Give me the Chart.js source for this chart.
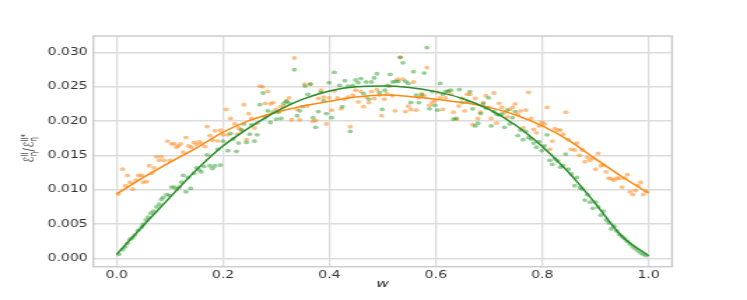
<!DOCTYPE html>
<html>
<head>
<meta charset="utf-8">
<script src="https://cdn.jsdelivr.net/npm/chart.js@4.4.1/dist/chart.umd.min.js"></script>
<style>
  html, body { margin: 0; padding: 0; background: #ffffff; overflow: hidden; }
  #wrap { width: 534px; height: 300px; transform: scaleX(1.3989); transform-origin: 0 0; }
</style>
</head>
<body>
<div id="wrap"><canvas id="c"></canvas></div>
<script>
// ---------- data ----------
const orangeX = [0.003,0.011,0.016,0.020,0.025,0.030,0.036,0.041,0.047,0.050,0.056,0.061,0.066,0.070,0.075,0.080,0.084,0.089,0.095,0.100,0.103,0.108,0.1125,0.116,0.120,0.125,0.130,0.135,0.140,0.145,0.150,0.155,0.160,0.166,0.170,0.175,0.180,0.185,0.190,0.195,0.200,
0.206,0.209,0.214,0.222,0.227,0.229,0.234,0.239,0.244,0.248,0.253,0.259,0.264,0.269,0.274,0.279,0.284,0.289,0.294,0.299,0.303,0.308,0.314,0.319,0.324,0.329,0.334,0.339,0.344,0.353,0.358,0.364,0.369,0.374,0.379,0.384,0.389,0.394,0.399,0.404,0.409,0.415,
0.422,0.428,0.435,0.439,0.444,0.449,0.454,0.459,0.464,0.469,0.474,0.479,0.484,0.489,0.494,0.498,0.503,0.508,0.513,0.518,0.523,0.528,0.533,0.538,0.543,0.548,0.553,0.558,0.563,0.568,0.573,0.578,0.583,0.588,0.593,0.598,0.603,0.608,0.613,0.618,0.623,0.628,0.633,0.639,
0.643,0.649,0.654,0.659,0.664,0.669,0.674,0.679,0.684,0.689,0.694,0.699,0.704,0.709,0.714,0.719,0.724,0.729,0.734,0.739,0.744,0.749,0.754,0.759,0.764,0.769,0.774,0.779,0.784,0.789,0.794,0.799,0.804,0.809,0.814,0.819,0.824,0.829,0.834,0.839,0.844,
0.849,0.854,0.861,0.865,0.870,0.875,0.880,0.885,0.890,0.895,0.900,0.905,0.910,0.915,0.920,0.925,0.930,0.935,0.940,0.945,0.950,0.955,0.960,0.965,0.970,0.975,0.980,0.985,0.990,0.995];
const orangeY = [0.0094,0.0130,0.0106,0.0121,0.0111,0.0101,0.0114,0.0121,0.0121,0.0111,0.0112,0.0135,0.0124,0.0132,0.0148,0.0143,0.0148,0.0143,0.0171,0.0143,0.0167,0.0167,0.0162,0.0164,0.0167,0.0155,0.0176,0.0164,0.0162,0.0169,0.0166,0.0170,0.0167,0.0163,0.0192,0.0179,0.0172,0.0186,0.0171,0.0187,0.0180,
0.0217,0.0180,0.0204,0.0196,0.0181,0.0190,0.0188,0.0224,0.0173,0.0211,0.0204,0.0190,0.0197,0.0251,0.0250,0.0226,0.0243,0.0225,0.0227,0.0217,0.0214,0.0221,0.0222,0.0229,0.0234,0.0202,0.0292,0.0217,0.0202,0.0254,0.0222,0.0254,0.0200,0.0201,0.0233,0.0245,0.0235,0.0196,0.0234,0.0216,0.0244,0.0234,
0.0218,0.0232,0.0235,0.0192,0.0238,0.0245,0.0228,0.0243,0.0221,0.0235,0.0227,0.0243,0.0233,0.0246,0.0238,0.0208,0.0232,0.0240,0.0251,0.0237,0.0215,0.0261,0.0293,0.0261,0.0214,0.0222,0.0217,0.0257,0.0216,0.0234,0.0240,0.0237,0.0278,0.0223,0.0227,0.0230,0.0242,0.0234,0.0217,0.0234,0.0243,0.0239,0.0213,0.0203,
0.0222,0.0233,0.0215,0.0239,0.0239,0.0195,0.0233,0.0204,0.0213,0.0227,0.0237,0.0220,0.0204,0.0241,0.0197,0.0226,0.0220,0.0213,0.0206,0.0217,0.0220,0.0225,0.0210,0.0215,0.0190,0.0216,0.0242,0.0204,0.0188,0.0183,0.0193,0.0198,0.0196,0.0220,0.0159,0.0171,0.0189,0.0187,0.0187,0.0181,0.0213,
0.0173,0.0159,0.0158,0.0168,0.0150,0.0158,0.0141,0.0147,0.0143,0.0146,0.0130,0.0153,0.0135,0.0136,0.0126,0.0117,0.0116,0.0114,0.0117,0.0117,0.0104,0.0117,0.0122,0.0097,0.0093,0.0099,0.0106,0.0111,0.0093,0.0098];

const greenX = [0.004,0.011,0.016,0.020,0.025,0.030,0.034,0.040,0.047,0.050,0.055,0.059,0.064,0.069,0.075,0.080,0.084,0.0875,0.094,0.099,0.103,0.108,0.1125,0.1175,0.122,0.125,0.130,0.134,0.139,0.145,0.150,0.155,0.159,0.164,0.170,0.175,0.180,0.185,0.190,0.195,0.200,
0.209,0.214,0.219,0.225,0.229,0.234,0.239,0.244,0.250,0.254,0.259,0.264,0.269,0.275,0.279,0.284,0.289,0.294,0.300,0.304,0.309,0.314,0.319,0.325,0.334,0.339,0.344,0.349,0.354,0.359,0.364,0.369,0.374,0.379,0.384,0.389,0.394,0.399,0.404,0.409,0.419,
0.424,0.429,0.435,0.439,0.444,0.449,0.454,0.459,0.464,0.469,0.474,0.479,0.484,0.489,0.494,0.499,0.504,0.509,0.514,0.519,0.524,0.529,0.533,0.538,0.543,0.548,0.553,0.558,0.563,0.568,0.573,0.578,0.583,0.588,0.593,0.598,0.603,0.608,0.613,0.618,0.623,0.628,0.633,
0.638,0.644,0.649,0.659,0.664,0.669,0.674,0.679,0.684,0.689,0.694,0.699,0.704,0.709,0.714,0.719,0.724,0.729,0.734,0.739,0.744,0.749,0.754,0.759,0.764,0.769,0.774,0.779,0.784,0.789,0.794,0.799,0.804,0.809,0.814,0.819,0.824,0.829,0.834,0.839,0.844,
0.849,0.855,0.861,0.865,0.871,0.875,0.880,0.885,0.890,0.895,0.900,0.905,0.910,0.915,0.920,0.925,0.930,0.935,0.940,0.945,0.950,0.955,0.960,0.965,0.970,0.975,0.980,0.985,0.990,0.995];
const greenY = [0.0006,0.0013,0.0017,0.0022,0.0028,0.0030,0.0034,0.0041,0.0046,0.0050,0.0056,0.0060,0.0066,0.0069,0.0075,0.0079,0.0086,0.0089,0.0093,0.0092,0.0104,0.0104,0.0101,0.0104,0.0111,0.0121,0.0097,0.0118,0.0102,0.0124,0.0132,0.0129,0.0126,0.0134,0.0151,0.0135,0.0131,0.0135,0.0159,0.0136,0.0171,
0.0157,0.0182,0.0174,0.0156,0.0168,0.0187,0.0196,0.0169,0.0181,0.0195,0.0171,0.0180,0.0224,0.0241,0.0205,0.0215,0.0198,0.0213,0.0203,0.0213,0.0204,0.0226,0.0229,0.0226,0.0275,0.0208,0.0215,0.0221,0.0251,0.0239,0.0254,0.0205,0.0191,0.0214,0.0242,0.0230,0.0211,0.0256,0.0205,0.0271,0.0252,
0.0221,0.0259,0.0251,0.0185,0.0252,0.0260,0.0256,0.0262,0.0240,0.0257,0.0232,0.0257,0.0263,0.0269,0.0242,0.0217,0.0245,0.0252,0.0268,0.0257,0.0258,0.0258,0.0293,0.0285,0.0258,0.0255,0.0227,0.0272,0.0238,0.0227,0.0238,0.0270,0.0307,0.0218,0.0243,0.0223,0.0216,0.0255,0.0239,0.0243,0.0244,0.0245,0.0203,
0.0204,0.0246,0.0227,0.0228,0.0243,0.0218,0.0193,0.0197,0.0211,0.0225,0.0219,0.0234,0.0193,0.0214,0.0210,0.0209,0.0210,0.0191,0.0216,0.0196,0.0205,0.0214,0.0179,0.0187,0.0173,0.0185,0.0176,0.0174,0.0168,0.0162,0.0170,0.0157,0.0164,0.0180,0.0143,0.0137,0.0145,0.0142,0.0133,0.0135,0.0152,
0.0130,0.0123,0.0106,0.0118,0.0103,0.0101,0.0085,0.0093,0.0082,0.0073,0.0082,0.0075,0.0063,0.0069,0.0056,0.0052,0.0043,0.0047,0.0040,0.0035,0.0032,0.0029,0.0025,0.0021,0.0017,0.0014,0.0011,0.0008,0.0006,0.0004];

const fitX = [0,0.05,0.1,0.15,0.2,0.25,0.3,0.35,0.4,0.45,0.5,0.55,0.6,0.65,0.7,0.75,0.8,0.85,0.9,0.95,1.0];
const greenFit  = [0.0006,0.0048,0.0089,0.0129,0.0164,0.0191,0.0214,0.0232,0.0244,0.0250,0.0251,0.0249,0.0243,0.0233,0.0217,0.0194,0.0163,0.0125,0.0080,0.0032,0.0004];
const orangeFit = [0.0094,0.0118,0.0140,0.0161,0.0184,0.0201,0.0213,0.0222,0.0229,0.0235,0.0238,0.0236,0.0232,0.0227,0.0220,0.0209,0.0193,0.0172,0.0145,0.0119,0.0095];

const xTicks = [0.0,0.2,0.4,0.6,0.8,1.0];
const yTicks = [0.000,0.005,0.010,0.015,0.020,0.025,0.030];

// ---------- chart ----------
const pts = (xs, ys) => xs.map((x, i) => ({ x: x, y: ys[i] }));
const FONT = "'DejaVu Sans', 'Liberation Sans', sans-serif";

const framePlugin = {
  id: 'frame',
  beforeDatasetsDraw(chart) {
    const a = chart.chartArea, ctx = chart.ctx;
    ctx.save();
    ctx.strokeStyle = '#cccccc';
    ctx.lineWidth = 1.5;
    ctx.strokeRect(a.left, a.top, a.right - a.left, a.bottom - a.top);
    ctx.restore();
  },
  afterDraw(chart) {
    const a = chart.chartArea, ctx = chart.ctx;
    ctx.save();
    ctx.fillStyle = '#262626';
    // x title
    ctx.font = 'italic 11px ' + FONT;
    ctx.textAlign = 'center';
    ctx.textBaseline = 'middle';
    ctx.fillText('w', (a.left + a.right) / 2, 284);
    // y title (rotated, with super/subscripts)
    const parts = [
      { t: 'ℰ', sup: 'll', sub: 'η' },
      { t: '/', sup: '', sub: '' },
      { t: 'ℰ', sup: 'll*', sub: 'η' }
    ];
    const big = '10px ' + FONT, small = '7px ' + FONT;
    let total = 0;
    const widths = parts.map(p => {
      ctx.font = big; const w1 = ctx.measureText(p.t).width;
      ctx.font = small;
      const w2 = Math.max(p.sup ? ctx.measureText(p.sup).width : 0, p.sub ? ctx.measureText(p.sub).width : 0);
      total += w1 + w2 + 0.5;
      return [w1, w2];
    });
    ctx.translate(20, 148);
    ctx.rotate(-Math.PI / 2);
    ctx.textAlign = 'left';
    ctx.textBaseline = 'alphabetic';
    let x = -total / 2;
    parts.forEach((p, i) => {
      ctx.font = big; ctx.fillText(p.t, x, 3.5);
      x += widths[i][0];
      ctx.font = small;
      if (p.sup) ctx.fillText(p.sup, x, -0.5);
      if (p.sub) ctx.fillText(p.sub, x, 6);
      x += widths[i][1] + 0.5;
    });
    ctx.restore();
  }
};

new Chart(document.getElementById('c'), {
  type: 'scatter',
  data: {
    datasets: [
      { type: 'line', data: pts(fitX, greenFit), borderColor: '#2a8c2a', borderWidth: 1.5, pointRadius: 0, fill: false, cubicInterpolationMode: 'monotone' },
      { type: 'line', data: pts(fitX, orangeFit), borderColor: '#ff8a10', borderWidth: 1.5, pointRadius: 0, fill: false, cubicInterpolationMode: 'monotone' },
      { data: pts(greenX, greenY), backgroundColor: 'rgba(44,160,44,0.5)', borderWidth: 0, pointRadius: 1.9 },
      { data: pts(orangeX, orangeY), backgroundColor: 'rgba(255,127,14,0.5)', borderWidth: 0, pointRadius: 1.9 }
    ]
  },
  options: {
    responsive: true,
    maintainAspectRatio: false,
    devicePixelRatio: 1,
    animation: false,
    events: [],
    layout: { padding: { left: 0, right: 53.6, top: 36, bottom: 0 } },
    plugins: { legend: { display: false }, tooltip: { enabled: false } },
    scales: {
      x: {
        type: 'linear', min: -0.044, max: 1.044,
        afterBuildTicks: s => { s.ticks = xTicks.map(v => ({ value: v })); },
        afterFit: s => { s.height = 33.3; },
        grid: { color: '#dcdcdc', lineWidth: 1.3, drawTicks: false },
        border: { display: false },
        ticks: { padding: 3, color: '#333333', font: { family: FONT, size: 10 }, maxRotation: 0, callback: v => Number(v).toFixed(1) }
      },
      y: {
        type: 'linear', min: -0.0012, max: 0.0324,
        afterBuildTicks: s => { s.ticks = yTicks.map(v => ({ value: v })); },
        afterFit: s => { s.width = 66.7; },
        grid: { color: '#dcdcdc', lineWidth: 1.4, drawTicks: false },
        border: { display: false },
        ticks: { padding: 4, color: '#333333', font: { family: FONT, size: 10 }, callback: v => Number(v).toFixed(3) }
      }
    }
  },
  plugins: [framePlugin]
});
</script>
</body>
</html>
